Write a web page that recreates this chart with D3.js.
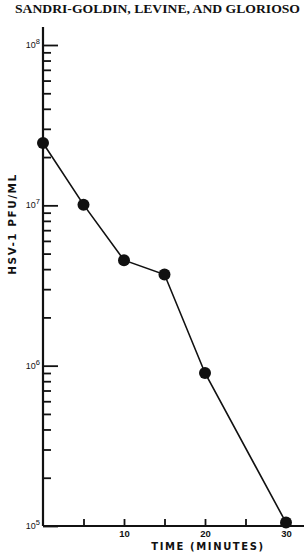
<!DOCTYPE html>
<html>
<head>
<meta charset="utf-8">
<script src="https://cdn.jsdelivr.net/npm/d3@7"></script>
<style>
  html, body { margin: 0; padding: 0; background: #fff; }
  svg { display: block; }
</style>
</head>
<body>
<div id="chart"></div>
<script>
// ----- Data -----
const times = [0, 5, 10, 15, 20, 30];                       // minutes
const titers = [2.45e7, 1.01e7, 4.55e6, 3.7e6, 9.0e5, 1.05e5]; // HSV-1 PFU/ml
const xTickValues = [5, 10, 15, 20, 25, 30];
const xTickLabels = ["", "10", "", "20", "", "30"];
const yDecades = [5, 6, 7, 8];

const W = 304, H = 558;
const INK = "#111";

const svg = d3.select("#chart").append("svg")
  .attr("width", W).attr("height", H);

const x = d3.scaleLinear().domain([0, 30]).range([43, 286]);
const y = d3.scaleLog().domain([1e5, 1e8]).range([526, 45]);

// Running header at the top of the page
svg.append("text")
  .attr("x", 15).attr("y", 13)
  .attr("font-family", "Liberation Serif, serif")
  .attr("font-weight", "bold")
  .attr("font-size", 12)
  .attr("textLength", 285)
  .attr("lengthAdjust", "spacingAndGlyphs")
  .attr("fill", INK)
  .text("SANDRI-GOLDIN, LEVINE, AND GLORIOSO");

// ----- Y axis (log, ticks pointing inward) -----
const minor = [];
yDecades.slice(0, -1).forEach(d => {
  for (let k = 2; k <= 9; k++) minor.push(k * Math.pow(10, d));
});
const major = yDecades.map(d => Math.pow(10, d));

const yAxisG = svg.append("g")
  .attr("transform", `translate(${x(0)},0)`)
  .call(d3.axisLeft(y).tickValues(major.concat(minor)).tickSize(-8).tickFormat(""));
yAxisG.select(".domain").remove();
yAxisG.selectAll(".tick line")
  .attr("stroke", INK)
  .attr("stroke-width", 1.8)
  .attr("x2", d => major.includes(d) ? 15 : 8);

svg.append("line")
  .attr("x1", x(0)).attr("x2", x(0))
  .attr("y1", 27).attr("y2", y(1e5))
  .attr("stroke", INK).attr("stroke-width", 2.2);

// decade labels "10^n"
const yLab = svg.append("g")
  .attr("font-family", "Liberation Sans, Arial, sans-serif")
  .attr("fill", INK);
yDecades.forEach(d => {
  const t = yLab.append("text")
    .attr("x", x(0) - 3)
    .attr("y", y(Math.pow(10, d)) + 3)
    .attr("text-anchor", "end")
    .attr("font-size", 9);
  t.append("tspan").text("10");
  t.append("tspan").attr("dy", -4).attr("font-size", 7.5).text(d);
});

// ----- X axis -----
const xAxisG = svg.append("g")
  .attr("transform", `translate(0,${y(1e5)})`)
  .call(d3.axisBottom(x).tickValues(xTickValues).tickSize(-7)
    .tickFormat((d, i) => xTickLabels[i]));
xAxisG.select(".domain").remove();
xAxisG.selectAll(".tick line").attr("stroke", INK).attr("stroke-width", 1.8);
xAxisG.selectAll(".tick text")
  .attr("y", 4)
  .attr("font-family", "Liberation Sans, Arial, sans-serif")
  .attr("font-weight", "bold")
  .attr("font-size", 9.5)
  .attr("fill", INK);

svg.append("line")
  .attr("x1", x(0)).attr("x2", W)
  .attr("y1", y(1e5)).attr("y2", y(1e5))
  .attr("stroke", INK).attr("stroke-width", 2);

// axis titles
svg.append("text")
  .attr("x", 208).attr("y", 550)
  .attr("text-anchor", "middle")
  .attr("font-family", "DejaVu Sans, sans-serif")
  .attr("font-weight", "bold")
  .attr("font-size", 10)
  .attr("letter-spacing", 1.6)
  .attr("fill", INK)
  .text("TIME  (MINUTES)");

svg.append("text")
  .attr("transform", "translate(16,224) rotate(-90)")
  .attr("text-anchor", "middle")
  .attr("font-family", "DejaVu Sans, sans-serif")
  .attr("font-weight", "bold")
  .attr("font-size", 10.5)
  .attr("letter-spacing", 1.5)
  .attr("fill", INK)
  .text("HSV-1  PFU/ML");

// ----- Series -----
const pts = times.map((t, i) => [t, titers[i]]);
svg.append("path")
  .datum(pts)
  .attr("fill", "none")
  .attr("stroke", INK)
  .attr("stroke-width", 1.6)
  .attr("d", d3.line().x(d => x(d[0])).y(d => y(d[1])));

svg.append("g").selectAll("circle")
  .data(pts)
  .join("circle")
  .attr("cx", d => x(d[0]))
  .attr("cy", d => y(d[1]))
  .attr("r", 6)
  .attr("fill", INK);
</script>
</body>
</html>
